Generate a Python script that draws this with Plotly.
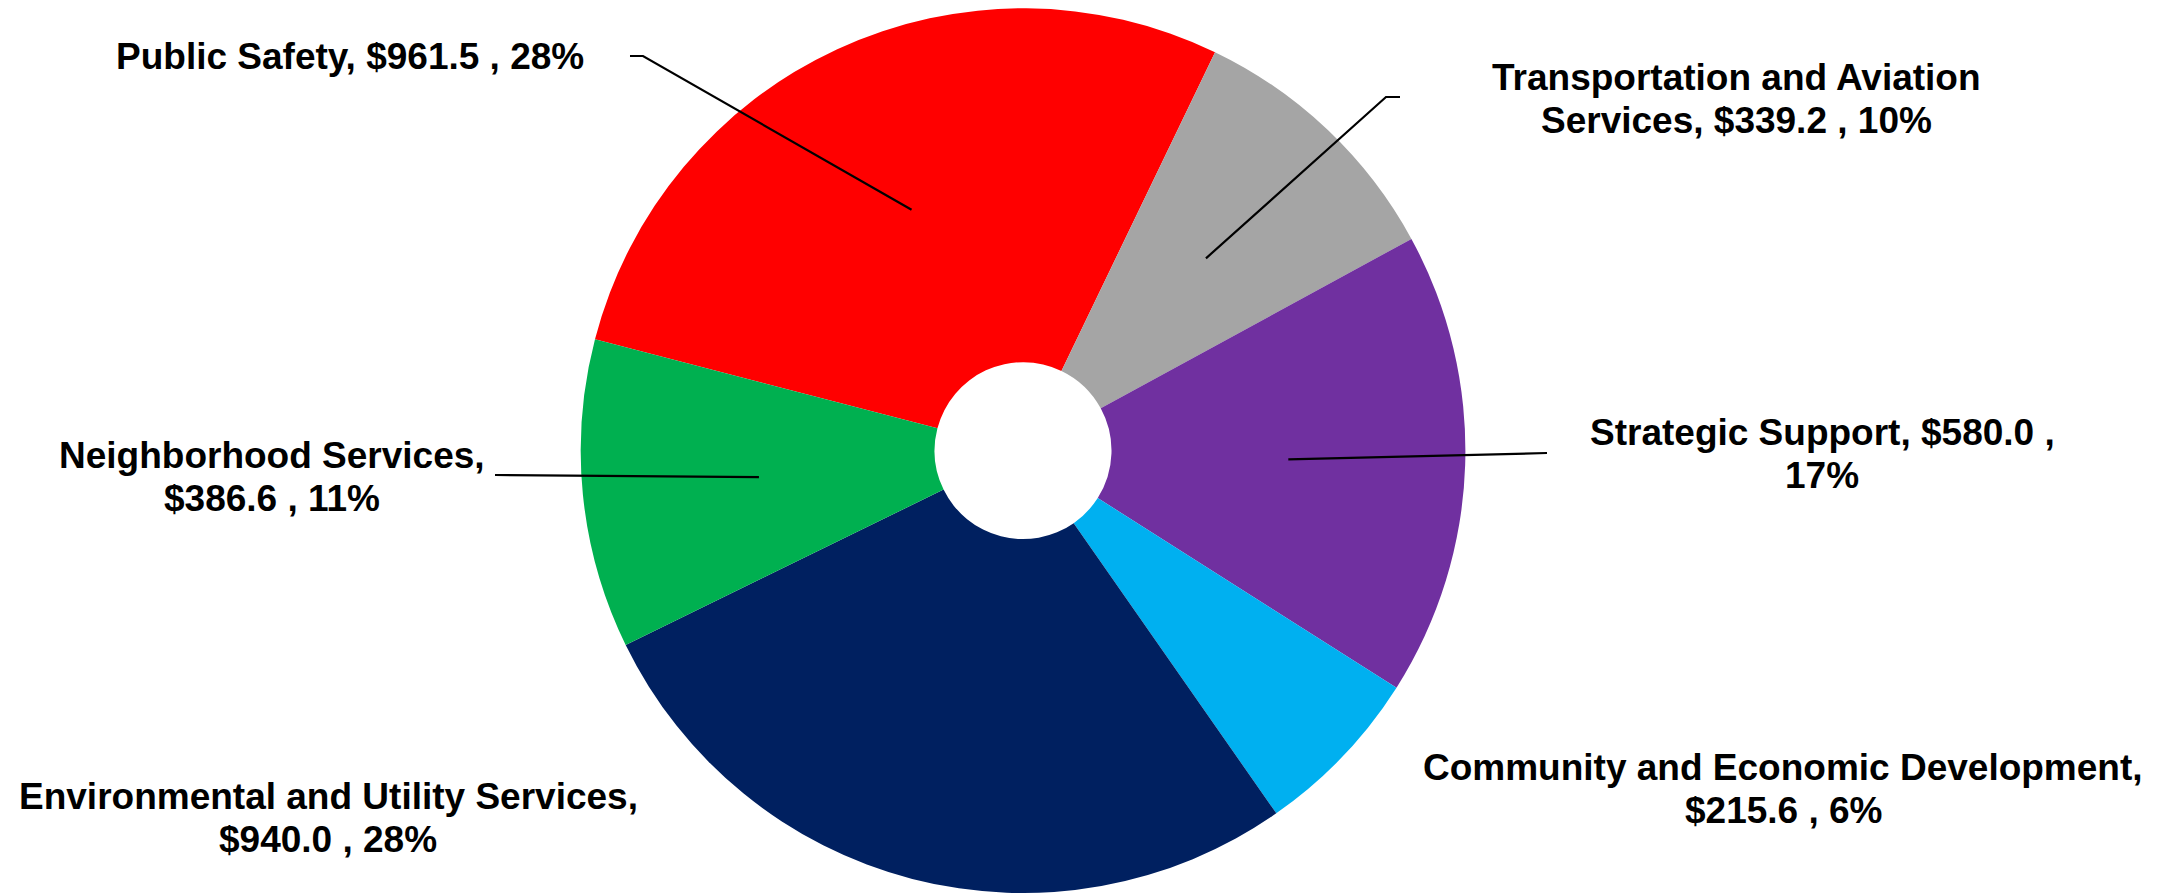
import math
import plotly.graph_objects as go

# General fund budget by city service area ($ millions)
categories = [
    "Public Safety",
    "Transportation and Aviation Services",
    "Strategic Support",
    "Community and Economic Development",
    "Environmental and Utility Services",
    "Neighborhood Services",
]
values = [961.5, 339.2, 580.0, 215.6, 940.0, 386.6]
pct_labels = [28, 10, 17, 6, 28, 11]
colors = ["#FF0000", "#A5A5A5", "#7030A0", "#00B0F0", "#002060", "#00B050"]

W, H = 2170, 893
ROTATION = -75.4
DOMAIN_X = [0.2673, 0.6756]
DOMAIN_Y = [0.0, 0.9907]

# how many words go on the first line of each label (0 = single line)
wrap_words = [0, 3, 4, 4, 4, 2]
# label placement: centre x and first-line centre y, in pixels
label_pos = [(350, 57), (1736, 77), (1822, 432), (1783, 767), (328, 796), (272, 455)]
LINE_GAP = 43.5
# leader line end points (pixels); None where a label has no leader
leader_end = [
    [(643, 56), (630, 56)],
    [(1386, 97), (1400, 97)],
    [(1547, 453)],
    None,
    None,
    [(495, 475)],
]

FONT = dict(family="Liberation Sans, Arial, sans-serif", size=37, color="#000000")


def to_paper(px, py):
    return px / W, 1 - py / H


fig = go.Figure(
    go.Pie(
        labels=categories,
        values=values,
        marker=dict(colors=colors, line=dict(width=0)),
        hole=0.2,
        sort=False,
        direction="clockwise",
        rotation=ROTATION,
        textinfo="none",
        hoverinfo="label+value+percent",
        domain=dict(x=DOMAIN_X, y=DOMAIN_Y),
        showlegend=False,
    )
)

# pie geometry in pixels, for anchoring leader lines on each slice
cx = (DOMAIN_X[0] + DOMAIN_X[1]) / 2 * W
cy = (1 - (DOMAIN_Y[0] + DOMAIN_Y[1]) / 2) * H
R = min((DOMAIN_X[1] - DOMAIN_X[0]) * W, (DOMAIN_Y[1] - DOMAIN_Y[0]) * H) / 2
total = sum(values)

annotations = []
shapes = []
start = ROTATION
for i, (name, v) in enumerate(zip(categories, values)):
    span = 360 * v / total
    mid = math.radians(start + span / 2)
    start += span

    text = f"{name}, ${v:.1f} , {pct_labels[i]}%"
    words = text.split(" ")
    if wrap_words[i]:
        lines = [" ".join(words[: wrap_words[i]]), " ".join(words[wrap_words[i]:])]
    else:
        lines = [text]
    lx, ly = label_pos[i]
    for k, line in enumerate(lines):
        xp, yp = to_paper(lx, ly + k * LINE_GAP)
        annotations.append(
            dict(
                x=xp, y=yp, xref="paper", yref="paper",
                text=f"<b>{line}</b>", showarrow=False,
                xanchor="center", yanchor="middle", font=FONT,
            )
        )

    if leader_end[i]:
        sx = cx + 0.6 * R * math.sin(mid)
        sy = cy - 0.6 * R * math.cos(mid)
        pts = [to_paper(sx, sy)] + [to_paper(px, py) for px, py in leader_end[i]]
        path = "M " + " L ".join(f"{x:.5f},{y:.5f}" for x, y in pts)
        shapes.append(
            dict(type="path", xref="paper", yref="paper", path=path,
                 line=dict(color="#000000", width=2.2))
        )

fig.update_layout(
    width=W,
    height=H,
    margin=dict(l=0, r=0, t=0, b=0),
    paper_bgcolor="#FFFFFF",
    plot_bgcolor="#FFFFFF",
    annotations=annotations,
    shapes=shapes,
)

fig.write_html("out.html")
